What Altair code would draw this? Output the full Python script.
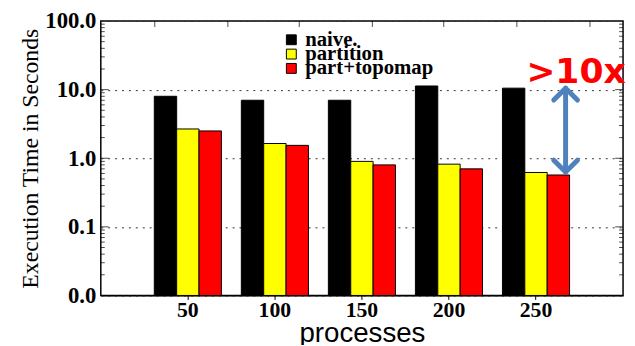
import altair as alt
import pandas as pd

# ---- data ----
processes = ["50", "100", "150", "200", "250"]
series = ["naive.", "partition", "part+topomap"]
naive = [8.0, 7.0, 7.0, 11.3, 10.5]
partition = [2.67, 1.64, 0.90, 0.82, 0.62]
part_topomap = [2.50, 1.54, 0.80, 0.70, 0.57]
colors = ["#000000", "#ffff00", "#ff0000"]
y_ticks = [0.01, 0.1, 1, 10, 100]
y_floor = 0.01

# annotation (in an auxiliary 0..300 x-frame, y in seconds)
annot_label = [">10x"]
annot_x = [273]
annot_y = [12.4]
arrow_x = [267]
arrow_top = [10.5]
arrow_bottom = [0.63]
top_ticks = [31, 73, 114, 156, 197, 239, 281]

rows = []
for i, p in enumerate(processes):
    for s, vals in zip(series, [naive, partition, part_topomap]):
        rows.append({"processes": p, "series": s, "time": vals[i]})
df = pd.DataFrame(rows)

minor = [m * 10 ** e for e in range(-2, 2) for m in range(2, 10)]
major = [0.1, 1, 10]
minor_df = pd.DataFrame({"v": minor})
major_df = pd.DataFrame({"v": major})
legend_df = pd.DataFrame({"series": series})

W, H = 529, 278
yscale = alt.Scale(type="log", domain=[0.01, 100], nice=False)
xaux = alt.Scale(domain=[0, 300], nice=False, zero=False)
cscale = alt.Scale(domain=series, range=colors)


def ylog(field):
    return alt.Y(field, scale=yscale, axis=None)


bars = alt.Chart(df).mark_bar(stroke="black", strokeWidth=1).encode(
    x=alt.X("processes:N", sort=processes,
            scale=alt.Scale(paddingInner=0.229, paddingOuter=0.6145),
            axis=alt.Axis(title="processes", labelAngle=0, labelFont="Liberation Serif",
                          labelFontWeight="bold", labelFontSize=22, labelPadding=0,
                          tickSize=4, tickColor="black", domainColor="black",
                          titleFont="Liberation Sans", titleFontSize=28,
                          titleFontWeight="normal", titlePadding=0)),
    xOffset=alt.XOffset("series:N", sort=series,
                        scale=alt.Scale(paddingInner=0, paddingOuter=0)),
    y=alt.Y("time:Q", scale=yscale,
            axis=alt.Axis(title="Execution Time in Seconds", values=y_ticks, format=".1f",
                          domain=False, ticks=False, grid=True, gridDash=[2, 5],
                          gridColor="#333", gridWidth=1,
                          labelFont="Liberation Serif", labelFontWeight="bold",
                          labelFontSize=23, labelPadding=5,
                          titleFont="Liberation Serif", titleFontSize=24,
                          titleFontWeight="normal", titlePadding=2)),
    y2=alt.datum(y_floor),
    color=alt.Color("series:N", sort=series, scale=cscale, legend=None),
)


def yticks(data, x, size):
    return alt.Chart(data).mark_tick(orient="horizontal", color="black",
                                     thickness=1, size=size).encode(
        y=ylog("v:Q"), x=alt.value(x))


tl_min = yticks(minor_df, 2, 4)
tl_maj = yticks(major_df, 4, 8)
tr_min = yticks(minor_df, W - 2, 4)
tr_maj = yticks(major_df, W - 4, 8)

ttop = alt.Chart(pd.DataFrame({"t": top_ticks})).mark_tick(
    orient="vertical", color="black", thickness=1, size=6).encode(
    x=alt.X("t:Q", scale=xaux, axis=None), y=alt.value(3))

adf = pd.DataFrame({"x": arrow_x, "top": arrow_top, "bottom": arrow_bottom})
arrow_col = "#4f81bd"
shaft = alt.Chart(adf).mark_rule(color=arrow_col, strokeWidth=5, strokeCap="round").encode(
    x=alt.X("x:Q", scale=xaux, axis=None), y=ylog("bottom:Q"), y2="top:Q")
head_up = alt.Chart(adf).mark_point(shape="M-1,1L0,0L1,1", size=576, filled=False,
                                    stroke=arrow_col, strokeWidth=5, opacity=1,
                                    strokeCap="round", strokeJoin="round").encode(
    x=alt.X("x:Q", scale=xaux, axis=None), y=ylog("top:Q"))
head_dn = alt.Chart(adf).mark_point(shape="M-1,-1L0,0L1,-1", size=576, filled=False,
                                    stroke=arrow_col, strokeWidth=5, opacity=1,
                                    strokeCap="round", strokeJoin="round").encode(
    x=alt.X("x:Q", scale=xaux, axis=None), y=ylog("bottom:Q"))

tdf = pd.DataFrame({"label": annot_label, "x": annot_x, "y": annot_y})
text = alt.Chart(tdf).mark_text(font="DejaVu Sans", fontWeight="bold", fontSize=35,
                                color="#ff0000", align="center",
                                baseline="alphabetic").encode(
    x=alt.X("x:Q", scale=xaux, axis=None), y=ylog("y:Q"), text="label:N")

# legend (rows on their own point scale, tightly stacked as in the reference)
leg_y = alt.Y("series:N", sort=series,
              scale=alt.Scale(type="point", domain=series, range=[19, 48], padding=0),
              axis=None)
leg_sym = alt.Chart(legend_df).mark_square(size=100, stroke="black", strokeWidth=1,
                                           opacity=1).encode(
    y=leg_y, x=alt.value(193),
    color=alt.Color("series:N", sort=series, scale=cscale, legend=None))
leg_txt = alt.Chart(legend_df).mark_text(font="Liberation Serif", fontWeight="bold",
                                         fontSize=21, color="black", align="left",
                                         baseline="middle").encode(
    y=leg_y, x=alt.value(207), text="series:N")

chart = alt.layer(bars, tl_min, tl_maj, tr_min, tr_maj, ttop, shaft, head_up, head_dn, text,
                  leg_sym, leg_txt
                  ).resolve_scale(x="independent", y="independent").properties(
    width=W, height=H,
    autosize=alt.AutoSizeParams(type="none"),
    padding={"left": 94, "top": 11, "right": 4, "bottom": 48},
).configure_view(stroke="black", strokeWidth=1.5).configure_axis(
    labelColor="black", titleColor="black")

chart.save("out.html", embed_options={"renderer": "svg", "actions": False})
